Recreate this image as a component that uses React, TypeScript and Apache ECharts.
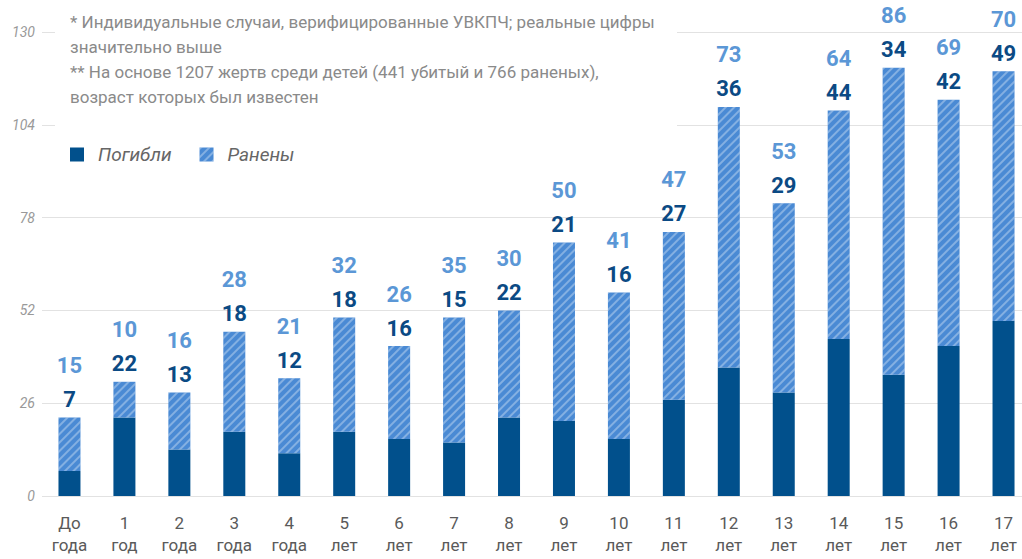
import React, { useEffect, useRef } from "react";
import * as echarts from "echarts";

const categories = [
  "До\nгода", "1\nгод", "2\nгода", "3\nгода", "4\nгода", "5\nлет", "6\nлет", "7\nлет", "8\nлет",
  "9\nлет", "10\nлет", "11\nлет", "12\nлет", "13\nлет", "14\nлет", "15\nлет", "16\nлет", "17\nлет",
];
const killed = [7, 22, 13, 18, 12, 18, 16, 15, 22, 21, 16, 27, 36, 29, 44, 34, 42, 49];
const wounded = [15, 10, 16, 28, 21, 32, 26, 35, 30, 50, 41, 47, 73, 53, 64, 86, 69, 70];
const yTicks = { min: 0, max: 130, interval: 26 };
const seriesNames = ["Погибли", "Ранены"];
const noteLines = [
  "* Индивидуальные случаи, верифицированные УВКПЧ; реальные цифры",
  "значительно выше",
  "** На основе 1207 жертв среди детей (441 убитый и 766 раненых),",
  "возраст которых был известен",
];

const DARK = "#01508c";
const LIGHT = "#4a8ad4";
const LIGHT_TXT = "#5b97d6";
const FONT = "Roboto, 'Noto Sans', sans-serif";

export default function App() {
  const ref = useRef<HTMLDivElement>(null);
  useEffect(() => {
    if (!ref.current) return;
    const chart = echarts.init(ref.current, null, { renderer: "svg" });
    chart.setOption({
      animation: false,
      textStyle: { fontFamily: FONT },
      grid: { left: 42, right: -9, top: 32, bottom: 63, containLabel: false, outerBoundsMode: "none" },
      legend: {
        left: 65,
        top: 140,
        itemWidth: 14,
        itemHeight: 14,
        itemGap: 28,
        icon: "rect",
        textStyle: { fontSize: 19, fontStyle: "italic", color: "#666", fontFamily: FONT, padding: [0, 0, 0, 9] },
        data: seriesNames,
      },
      xAxis: {
        type: "category",
        data: categories,
        axisLine: { show: false },
        axisTick: { show: false },
        axisLabel: { color: "#5a5a5a", fontSize: 17, lineHeight: 22, margin: 16, interval: 0, fontFamily: FONT },
      },
      yAxis: {
        type: "value",
        min: yTicks.min,
        max: yTicks.max,
        interval: yTicks.interval,
        axisLine: { show: false },
        axisTick: { show: false },
        axisLabel: { color: "#999", fontSize: 14, fontStyle: "italic", margin: 7, fontFamily: FONT },
        splitLine: { lineStyle: { color: "#e2e2e2", width: 1 } },
      },
      graphic: [
        { type: "rect", z: 1, shape: { x: 55, y: 0, width: 622, height: 185 }, style: { fill: "#fff" } },
        ...noteLines.map((t, i) => ({
          type: "text",
          z: 3,
          left: 70,
          top: 13 + i * 25,
          style: { text: t, fill: "#8a8a8a", fontSize: 17, fontFamily: FONT },
        })),
      ],
      series: [
        {
          name: seriesNames[0],
          type: "bar",
          stack: "a",
          data: killed,
          barWidth: 22,
          itemStyle: { color: DARK },
        },
        {
          name: seriesNames[1],
          type: "bar",
          stack: "a",
          data: wounded,
          barWidth: 22,
          itemStyle: {
            color: LIGHT,
            decal: {
              symbol: "rect",
              symbolSize: 1,
              color: "rgba(255,255,255,0.32)",
              dashArrayX: [1, 0],
              dashArrayY: [1.2, 4],
              rotation: -Math.PI / 4,
            },
          },
          label: {
            show: true,
            position: "top",
            distance: 1,
            formatter: (p: any) => `{w|${wounded[p.dataIndex]}}\n{k|${killed[p.dataIndex]}}`,
            rich: {
              w: { color: LIGHT_TXT, fontSize: 22, fontWeight: "bold", lineHeight: 34, fontFamily: FONT },
              k: { color: "#0b4a84", fontSize: 22, fontWeight: "bold", lineHeight: 34, fontFamily: FONT },
            },
          },
        },
      ],
    });
    return () => chart.dispose();
  }, []);
  return <div ref={ref} style={{ width: 1022, height: 559, position: "absolute", left: 0, top: 0 }} />;
}
